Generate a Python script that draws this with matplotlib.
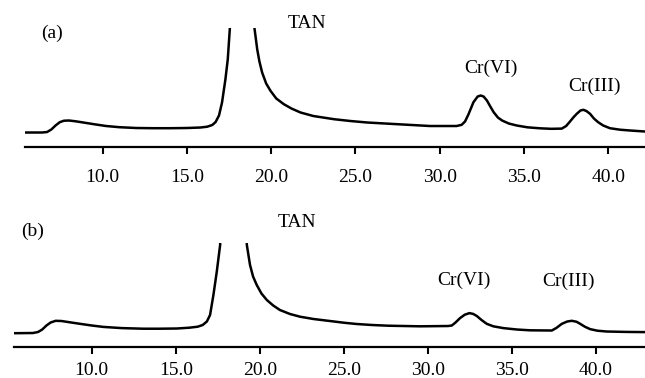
import matplotlib
matplotlib.use('Agg')
import matplotlib.pyplot as plt

# Chromatogram (a): retention time (min) vs detector signal (arbitrary units)
time_a = [5.39, 6.4, 6.7, 6.95, 7.2, 7.45, 7.7, 8.0, 8.4, 9.0, 9.6, 10.2, 11.0, 12.0,
          13.0, 14.0, 15.0, 15.8, 16.2, 16.5, 16.7, 16.9, 17.08, 17.28, 17.42, 17.54,
          18.25, 19.0, 19.17, 19.3, 19.46, 19.7, 19.96, 20.3, 20.75, 21.2, 21.74, 22.5,
          23.73, 24.7, 25.7, 27.5, 29.42, 31.0, 31.3, 31.5, 31.7, 32.0, 32.25, 32.43,
          32.6, 32.8, 33.0, 33.2, 33.45, 33.7, 34.1, 34.57, 35.2, 35.95, 36.6, 37.24,
          37.5, 37.73, 37.95, 38.13, 38.35, 38.52, 38.7, 38.92, 39.15, 39.4, 39.7,
          40.1, 40.7, 41.3, 42.18]
signal_a = [14, 14, 14.5, 17, 21, 24.3, 25.8, 26, 25.2, 23.6, 22, 20.5, 19.3, 18.5,
            18.3, 18.3, 18.5, 19, 19.8, 21.5, 24.5, 31, 44, 67, 87, 117,
            400, 119, 97, 85, 74, 63, 55.6, 48, 42.3, 38, 34, 30.5,
            27.3, 25.5, 24, 22.3, 20.5, 20.5, 21.7, 25, 32, 44.3, 50, 51,
            50, 46, 40, 34.3, 29, 26, 23, 21, 19.2, 18.2, 17.7, 17.9,
            20.5, 25, 29.5, 32.7, 36, 36.7, 35.5, 32.7, 28, 24.3, 21,
            18.3, 16.8, 16, 15]

# Chromatogram (b)
time_b = [5.37, 6.5, 6.8, 7.05, 7.3, 7.55, 7.85, 8.2, 8.7, 9.3, 10.0, 10.69, 11.8,
          13.07, 14.0, 15.06, 15.8, 16.3, 16.6, 16.85, 17.04, 17.24, 17.44, 17.64,
          18.45, 19.23, 19.42, 19.6, 19.82, 20.1, 20.42, 20.8, 21.2, 21.8, 22.4, 23.2,
          24.18, 25.0, 25.77, 26.7, 27.65, 29.54, 31.2, 31.43, 31.65, 31.92, 32.2,
          32.48, 32.7, 32.92, 33.2, 33.51, 33.9, 34.5, 35.3, 36.09, 37.38, 37.65,
          37.98, 38.3, 38.57, 38.85, 39.07, 39.35, 39.66, 40.1, 40.65, 41.8, 42.93]
signal_b = [13.3, 13.5, 14.5, 17, 21, 24, 25.7, 25.5, 24.2, 22.7, 21, 19.6, 18.4,
            17.8, 17.8, 18, 18.8, 19.8, 21.5, 25, 31.5, 51.5, 74.8, 101.5,
            400, 101.5, 81.5, 70, 61.5, 53, 46.5, 41, 36.5, 32.5, 29.8, 27.5,
            25.5, 23.8, 22.5, 21.5, 20.8, 20.2, 20.5, 21, 24, 28.4, 31.8,
            33.4, 32.6, 30.5, 26.5, 22.7, 20.2, 18.4, 17, 16.2, 16, 18.5,
            22.7, 25, 25.7, 24.8, 22.7, 19.8, 17.4, 15.8, 15, 14.6, 14.4]

ticks = [10, 15, 20, 25, 30, 35, 40]
tick_labels = ['10.0', '15.0', '20.0', '25.0', '30.0', '35.0', '40.0']

# peak labels: (text, time, signal) per panel
labels_a = [('(a)', 6.99, 113.5), ('TAN', 22.12, 123.5),
            ('Cr(VI)', 33.03, 78.5), ('Cr(III)', 39.16, 60.5)]
labels_b = [('(b)', 6.45, 114.8), ('TAN', 22.22, 124.5),
            ('Cr(VI)', 32.16, 66.5), ('Cr(III)', 38.35, 64.8)]

plt.rcParams['font.family'] = ['Liberation Serif', 'DejaVu Serif']

fig = plt.figure(figsize=(6.45, 3.78), dpi=100)
ax_a = fig.add_axes([0.0388, 0.6124, 0.9612, 0.3135])
ax_b = fig.add_axes([0.0217, 0.0833, 0.9783, 0.2738])


def draw_panel(ax, t, s, xlim, ytop, labels, pad):
    ax.plot(t, s, color='black', linewidth=1.8, solid_joinstyle='round',
            solid_capstyle='round')
    ax.set_xlim(*xlim)
    ax.set_ylim(0, ytop)
    for side in ['top', 'right', 'left']:
        ax.spines[side].set_visible(False)
    ax.spines['bottom'].set_linewidth(1.6)
    ax.set_yticks([])
    ax.set_xticks(ticks)
    ax.set_xticklabels(tick_labels)
    ax.tick_params(axis='x', direction='out', length=5, width=1.5,
                   labelsize=14, pad=pad)
    for text, x, y in labels:
        ax.text(x, y, text, ha='center', va='center', fontsize=14,
                clip_on=False)
    ax.patch.set_alpha(0)


draw_panel(ax_a, time_a, signal_a, (5.39, 42.18), 118.5, labels_a, 11)
draw_panel(ax_b, time_b, signal_b, (5.37, 42.93), 103.5, labels_b, 6)

fig.savefig('out.png', dpi=100)
